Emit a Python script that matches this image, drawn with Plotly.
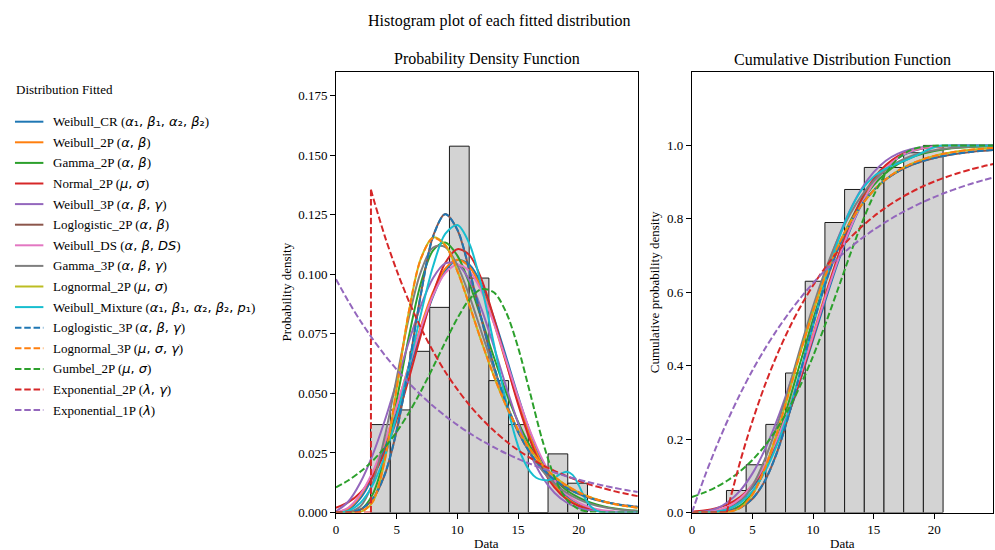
import plotly.graph_objects as go

# ---------------- data ----------------
BIN_EDGES = [2.85, 4.475, 6.1, 7.725, 9.35, 10.975, 12.6, 14.225, 15.85, 17.475, 19.1, 20.725]
BIN_COUNTS = [6, 7, 11, 14, 25, 16, 9, 6, 0, 4, 2]

X_MAX = 24.87
PDF_Y_MAX = 0.185
CDF_Y_MAX = 1.2

X = [0, 1, 2, 3, 4, 5, 6, 7, 8, 9, 10, 11, 12, 13, 14, 15, 16, 17, 18, 19, 20, 21, 22, 23, 24, 24.87]
X_MIX = [0, 1, 2, 3, 4, 5, 6, 7, 8, 9, 10, 11, 12, 13, 14, 15, 15.5, 16, 16.5, 17, 17.5, 18, 18.5,
         19, 19.5, 20, 20.5, 21, 21.5, 22, 23, 24, 24.87]
EXP2_GAMMA = 2.88
X_EXP2 = [2.88, 3, 4, 5, 6, 7, 8, 9, 10, 11, 12, 13, 14, 15, 16, 17, 18, 19, 20, 21, 22, 23, 24, 24.87]

PDF_WEIBULL_CR = [0, .0011, .0059, .0146, .0269, .0421, .0591, .0760, .0908, .1014, .1060, .1040, .0956,
                  .0820, .0657, .0490, .0337, .0215, .0126, .0067, .0033, .0015, .0006, .0002, .0001, .00005]
CDF_WEIBULL_CR = [0, .0003, .0035, .0134, .0339, .0681, .1186, .1862, .2698, .3662, .4704, .5760, .6762,
                  .7654, .8395, .8968, .9379, .9653, .9821, .9914, .9963, .9985, .9994, .9998, .9999, 1.0]

PDF_WEIBULL_2P = [0, .00164, .0070, .01622, .0290, .04457, .0616, .0783, .0926, .1024, .1061, .1031, .0938,
                  .0797, .0632, .04655, .03173, .01994, .01152, .00609, .00293, .00128, .0005, .00017, .00005, .00002]
CDF_WEIBULL_2P = [0, .00053, .00452, .0158, .0382, .0748, .1278, .1979, .2837, .3816, .4863, .5915, .6903,
                  .7774, .8490, .9038, .9427, .9683, .9838, .9923, .9967, .9987, .99954, .99985, .99996, .99998]

PDF_GAMMA_2P = [0, .0000255, .0011, .00741, .02303, .0471, .0738, .0964, .1101, .1134, .1079, .0961, .0811,
                .0654, .0508, .0381, .0278, .01974, .01372, .00935, .00626, .00412, .00267, .00171, .00108, .00072]
CDF_GAMMA_2P = [0, .000004, .0004, .0042, .0187, .0535, .1135, .1986, .3018, .4150, .5257, .6277, .7163,
                .7896, .8477, .8921, .9251, .9489, .9656, .9771, .9849, .9901, .9935, .9957, .9971, .9979]

PDF_NORMAL_2P = [.0020, .00423, .00828, .0150, .0251, .0390, .0561, .0746, .0919, .1048, .1106, .1081, .0978,
                 .0819, .0635, .0456, .0303, .0186, .0106, .00558, .00273, .00123, .00052, .0002, .00007, .00003]
CDF_NORMAL_2P = [.0023, .0053, .0114, .0228, .0425, .0743, .1216, .1870, .2706, .3694, .4778, .5880, .6915,
                 .7817, .8544, .9088, .9464, .9706, .9849, .9927, .9968, .99865, .99948, .99982, .99994, .99998]

PDF_WEIBULL_3P = [.0005, .0045, .0125, .0239, .0383, .0548, .0716, .0869, .0985, .1046, .1043, .0975, .0853,
                  .0698, .0532, .0377, .0247, .0149, .0083, .0042, .0019, .0008, .0003, .0001, .00003, .00001]
CDF_WEIBULL_3P = [.0002, .0025, .0101, .0292, .0603, .1066, .1700, .2494, .3424, .4445, .5494, .6508, .7426,
                  .8204, .8821, .9271, .9582, .9776, .9889, .9949, .9979, .9992, .9997, .9999, 1.0, 1.0]

PDF_LOGLOGISTIC_2P = [0, .000089, .00119, .00542, .0156, .0343, .0614, .0920, .1161, .1254, .1187, .1015, .0809,
                      .0617, .04598, .03392, .02498, .01848, .01377, .01035, .00785, .00601, .00465, .00363, .00286, .00235]
CDF_LOGLOGISTIC_2P = [0, .00002, .0005, .00343, .0133, .0375, .0848, .1616, .2666, .3887, .5119, .6226, .7138,
                      .7848, .8384, .8780, .9072, .9288, .9448, .9567, .9658, .9727, .9780, .9821, .9853, .9876]

PDF_WEIBULL_DS = [0, .002, .0075, .0168, .0295, .0448, .0613, .0775, .0912, .1005, .1040, .1013, .0927,
                  .0796, .0642, .0485, .0342, .0224, .0136, .0077, .0041, .0020, .0009, .0004, .0002, .0001]
CDF_WEIBULL_DS = [0, .0008, .0050, .0168, .0390, .0758, .1287, .1983, .2830, .3793, .4820, .5850, .6825,
                  .7690, .8410, .8975, .9385, .9665, .9835, .9925, .9965, .9985, .9994, .9997, .9999, .9999]

PDF_GAMMA_3P = [0, .0002, .0025, .0120, .0315, .0564, .0817, .1012, .1113, .1115, .1038, .0909, .0756,
                .0603, .0464, .0345, .0250, .0176, .0122, .0083, .0055, .0036, .00227, .00145, .0009, .0006]
CDF_GAMMA_3P = [0, .00005, .0012, .0081, .0289, .0727, .1433, .2338, .3397, .4540, .5614, .6587, .7419,
                .8099, .8632, .9036, .9334, .9549, .9697, .9798, .9867, .9913, .9943, .9963, .9976, .9983]

PDF_LOGNORMAL_2P = [0, 0, .00017, .0042, .0214, .0520, .0842, .1067, .1155, .1124, .1015, .0870, .0716,
                    .0574, .0450, .0347, .0265, .02005, .01507, .01129, .00842, .00628, .00467, .00348, .00259, .00201]
CDF_LOGNORMAL_2P = [0, 0, .00003, .0015, .0130, .0489, .1175, .2140, .3262, .4411, .5486, .6430, .7222,
                    .7866, .8377, .8773, .9078, .9309, .9484, .9614, .9712, .9785, .9840, .9880, .9910, .9930]

PDF_WEIBULL_MIX = [0, .00065, .0040, .0113, .0234, .0404, .0612, .0834, .1034, .1170, .1207, .1128, .0948,
                   .0711, .0470, .0280, .0215, .0172, .0146, .0137, .0136, .0146, .0162, .0171, .0158, .0115,
                   .0062, .0025, .0007, .0001, 0, 0, 0]
CDF_WEIBULL_MIX = [0, .0002, .0022, .0095, .0267, .0585, .1096, .1826, .2773, .3894, .5104, .6294, .7350,
                   .8191, .8786, .9150, .9270, .9365, .9443, .9512, .9578, .9647, .9722, .9803, .9883, .9950,
                   .9988, .9996, .9999, 1.0, 1.0, 1.0, 1.0]

PDF_LOGLOGISTIC_3P = [0, .0001, .0013, .0056, .0158, .0344, .0613, .0917, .1158, .1253, .1188, .1017, .0811,
                      .0619, .0461, .0340, .0250, .0185, .0138, .0104, .0079, .0060, .0047, .0036, .0029, .0024]
CDF_LOGLOGISTIC_3P = [0, .00002, .0006, .0036, .0135, .0378, .0850, .1617, .2664, .3884, .5117, .6225, .7138,
                      .7849, .8385, .8781, .9073, .9289, .9449, .9568, .9659, .9728, .9781, .9822, .9854, .9877]

PDF_LOGNORMAL_3P = [0, 0, .0002, .0044, .0217, .0522, .0843, .1066, .1153, .1122, .1014, .0870, .0717,
                    .0575, .0451, .0348, .0266, .0201, .0151, .0113, .0085, .0063, .0047, .0035, .0026, .0020]
CDF_LOGNORMAL_3P = [0, 0, .00004, .0016, .0133, .0493, .1180, .2145, .3266, .4414, .5488, .6431, .7223,
                    .7867, .8378, .8774, .9079, .9310, .9485, .9615, .9713, .9786, .9841, .9881, .9911, .9931]

PDF_GUMBEL_2P = [.01053, .01344, .01708, .02159, .02716, .03387, .04182, .05095, .06104, .07154, .08153, .08954,
                 .09381, .0925, .0843, .0694, .0501, .0305, .01496, .00553, .00141, .00023, .00002, 0, 0, 0]
CDF_GUMBEL_2P = [.0421, .0541, .0693, .0885, .1128, .1432, .1810, .2272, .2833, .3495, .4261, .5118, .6040,
                 .6977, .7866, .8640, .9240, .9641, .9864, .9961, .99923, .9999, 1, 1, 1, 1]

PDF_EXPONENTIAL_2P = [.1355, .1333, .1164, .1017, .0888, .0775, .0677, .0591, .0517, .0451, .0394, .0344, .0300,
                      .0262, .0229, .0200, .0175, .0153, .0133, .0116, .0102, .00888, .00775, .00688]
CDF_EXPONENTIAL_2P = [0, .0161, .1408, .2496, .3447, .4277, .5002, .5635, .6188, .6671, .7093, .7461, .7783,
                      .8064, .8309, .8523, .8710, .8874, .9016, .9141, .9250, .9345, .9428, .9492]

PDF_EXPONENTIAL_1P = [.098, .08885, .08056, .07304, .06622, .06003, .05443, .04935, .04475, .04057, .03678,
                      .03335, .03023, .02741, .02485, .02253, .02043, .01852, .0168, .01523, .01381, .01251,
                      .01135, .01029, .00933, .00857]
CDF_EXPONENTIAL_1P = [0, .0934, .1780, .2547, .3243, .3874, .4446, .4964, .5434, .5860, .6247, .6597, .6915,
                      .7203, .7464, .7701, .7915, .8110, .8286, .8446, .8591, .8723, .8842, .8950, .9048, .9126]

# ---------------- styling ----------------
FONT = "Liberation Serif"
W, H = 995, 558     # page is captured 8px taller than the window, then fitted to 550 rows
HY = 550.0          # rows of the reference picture
TAB = ["#1f77b4", "#ff7f0e", "#2ca02c", "#d62728", "#9467bd",
       "#8c564b", "#e377c2", "#7f7f7f", "#bcbd22", "#17becf"]
DASH = "6.5px,2.8px"


def M(s):
    return "<span style='font-family:DejaVu Sans;font-size:13px'>" + s + "</span>"


A, B, G = "<i>α</i>", "<i>β</i>", "<i>γ</i>"
MU, SG, LM = "<i>μ</i>", "<i>σ</i>", "<i>λ</i>"
A1, B1, A2, B2, P1 = A + "₁", B + "₁", A + "₂", B + "₂", "<i>p</i>₁"

SERIES = [
    ("Weibull_CR (" + M(", ".join([A1, B1, A2, B2])) + ")",
     TAB[0], "solid", X, PDF_WEIBULL_CR, X, CDF_WEIBULL_CR),
    ("Weibull_2P (" + M(A + ", " + B) + ")", TAB[1], "solid", X, PDF_WEIBULL_2P, X, CDF_WEIBULL_2P),
    ("Gamma_2P (" + M(A + ", " + B) + ")", TAB[2], "solid", X, PDF_GAMMA_2P, X, CDF_GAMMA_2P),
    ("Normal_2P (" + M(MU + ", " + SG) + ")", TAB[3], "solid", X, PDF_NORMAL_2P, X, CDF_NORMAL_2P),
    ("Weibull_3P (" + M(A + ", " + B + ", " + G) + ")", TAB[4], "solid", X, PDF_WEIBULL_3P, X, CDF_WEIBULL_3P),
    ("Loglogistic_2P (" + M(A + ", " + B) + ")", TAB[5], "solid", X, PDF_LOGLOGISTIC_2P, X, CDF_LOGLOGISTIC_2P),
    ("Weibull_DS (" + M(A + ", " + B + ", <i>DS</i>") + ")", TAB[6], "solid", X, PDF_WEIBULL_DS, X, CDF_WEIBULL_DS),
    ("Gamma_3P (" + M(A + ", " + B + ", " + G) + ")", TAB[7], "solid", X, PDF_GAMMA_3P, X, CDF_GAMMA_3P),
    ("Lognormal_2P (" + M(MU + ", " + SG) + ")", TAB[8], "solid", X, PDF_LOGNORMAL_2P, X, CDF_LOGNORMAL_2P),
    ("Weibull_Mixture (" + M(", ".join([A1, B1, A2, B2, P1])) + ")",
     TAB[9], "solid", X_MIX, PDF_WEIBULL_MIX, X_MIX, CDF_WEIBULL_MIX),
    ("Loglogistic_3P (" + M(A + ", " + B + ", " + G) + ")", TAB[0], DASH, X, PDF_LOGLOGISTIC_3P, X, CDF_LOGLOGISTIC_3P),
    ("Lognormal_3P (" + M(MU + ", " + SG + ", " + G) + ")", TAB[1], DASH, X, PDF_LOGNORMAL_3P, X, CDF_LOGNORMAL_3P),
    ("Gumbel_2P (" + M(MU + ", " + SG) + ")", TAB[2], DASH, X, PDF_GUMBEL_2P, X, CDF_GUMBEL_2P),
    ("Exponential_2P (" + M(LM + ", " + G) + ")", TAB[3], DASH,
     [0, EXP2_GAMMA, None, EXP2_GAMMA, EXP2_GAMMA, None] + X_EXP2,
     [0, 0, None, 0, PDF_EXPONENTIAL_2P[0], None] + PDF_EXPONENTIAL_2P,
     [0, EXP2_GAMMA, None] + X_EXP2, [0, 0, None] + CDF_EXPONENTIAL_2P),
    ("Exponential_1P (" + M(LM) + ")", TAB[4], DASH, X, PDF_EXPONENTIAL_1P, X, CDF_EXPONENTIAL_1P),
]

# histogram values
n = sum(BIN_COUNTS)
centers = [(BIN_EDGES[i] + BIN_EDGES[i + 1]) / 2 for i in range(len(BIN_COUNTS))]
widths = [BIN_EDGES[i + 1] - BIN_EDGES[i] for i in range(len(BIN_COUNTS))]
density = [c / (n * w) for c, w in zip(BIN_COUNTS, widths)]
cumul = []
run = 0
for c in BIN_COUNTS:
    run += c
    cumul.append(run / n)

fig = go.Figure()
bar_style = dict(color="#d3d3d3", line=dict(color="#1a1a1a", width=1))
fig.add_trace(go.Bar(x=centers, y=density, width=widths, marker=bar_style,
                     xaxis="x", yaxis="y", showlegend=False, hoverinfo="skip"))
fig.add_trace(go.Bar(x=centers, y=cumul, width=widths, marker=bar_style,
                     xaxis="x2", yaxis="y2", showlegend=False, hoverinfo="skip"))

for name, color, dash, xp, yp, xc, yc in SERIES:
    ln = dict(color=color, width=2, dash=dash, shape="spline", smoothing=0.9)
    fig.add_trace(go.Scatter(x=xp, y=yp, mode="lines", line=ln, name=name,
                             xaxis="x", yaxis="y", showlegend=False))
    fig.add_trace(go.Scatter(x=xc, y=yc, mode="lines", line=ln, name=name,
                             xaxis="x2", yaxis="y2", showlegend=False))


def py(p):
    """reference pixel row -> paper y"""
    return 1 - p / HY


# axes geometry (pixels from reference)
L1, R1, L2, R2 = 334, 636.7, 691, 993.3
TOP, BOT = 72, 512.5
ydom = [py(BOT), py(TOP)]

axis_common = dict(showline=True, mirror=True, linecolor="black", linewidth=1,
                   ticks="outside", ticklen=5, tickwidth=1, tickcolor="black",
                   showgrid=False, zeroline=False,
                   tickfont=dict(family=FONT, size=13, color="black"))

fig.update_layout(
    width=W, height=H, autosize=False,
    margin=dict(l=0, r=0, t=0, b=0),
    paper_bgcolor="white", plot_bgcolor="white",
    barmode="overlay", showlegend=False,
    xaxis=dict(domain=[L1 / W, R1 / W], range=[0, X_MAX], tickvals=[0, 5, 10, 15, 20],
               anchor="y", **axis_common),
    yaxis=dict(domain=ydom, range=[0, PDF_Y_MAX],
               tickvals=[0, 0.025, 0.05, 0.075, 0.1, 0.125, 0.15, 0.175], tickformat=".3f",
               anchor="x", **axis_common),
    xaxis2=dict(domain=[L2 / W, R2 / W], range=[0, X_MAX], tickvals=[0, 5, 10, 15, 20],
                anchor="y2", **axis_common),
    yaxis2=dict(domain=ydom, range=[0, CDF_Y_MAX],
                tickvals=[0, 0.2, 0.4, 0.6, 0.8, 1.0], tickformat=".1f",
                anchor="x2", **axis_common),
)

ann = []


def text(x, yp, s, size=13, xanchor="center", angle=0):
    ann.append(dict(x=x / W, y=yp, xref="paper", yref="paper", text=s, showarrow=False,
                    xanchor=xanchor, yanchor="middle", textangle=angle,
                    font=dict(family=FONT, size=size, color="black")))


text(W / 2, py(21), "Histogram plot of each fitted distribution", size=16)
text((L1 + R1) / 2, py(59), "Probability Density Function", size=16)
text((L2 + R2) / 2, py(59), "Cumulative Distribution Function", size=16)
text((L1 + R1) / 2, py(543), "Data")
text((L2 + R2) / 2, py(543), "Data")
text(284, py((TOP + BOT) / 2), "Probability density", angle=-90)
text(653, py((TOP + BOT) / 2), "Cumulative probability density", angle=-90)

# manual legend
text(11, py(89), "Distribution Fitted", xanchor="left")
shapes = []
for i, (name, color, dash, *_rest) in enumerate(SERIES):
    yc = 121.7 + 20.6 * i
    shapes.append(dict(type="line", xref="paper", yref="paper",
                       x0=12 / W, x1=40.5 / W, y0=py(yc), y1=py(yc),
                       line=dict(color=color, width=2, dash=dash)))
    text(48, py(yc), name, xanchor="left")

fig.update_layout(annotations=ann, shapes=shapes)
fig.write_html("out.html")
